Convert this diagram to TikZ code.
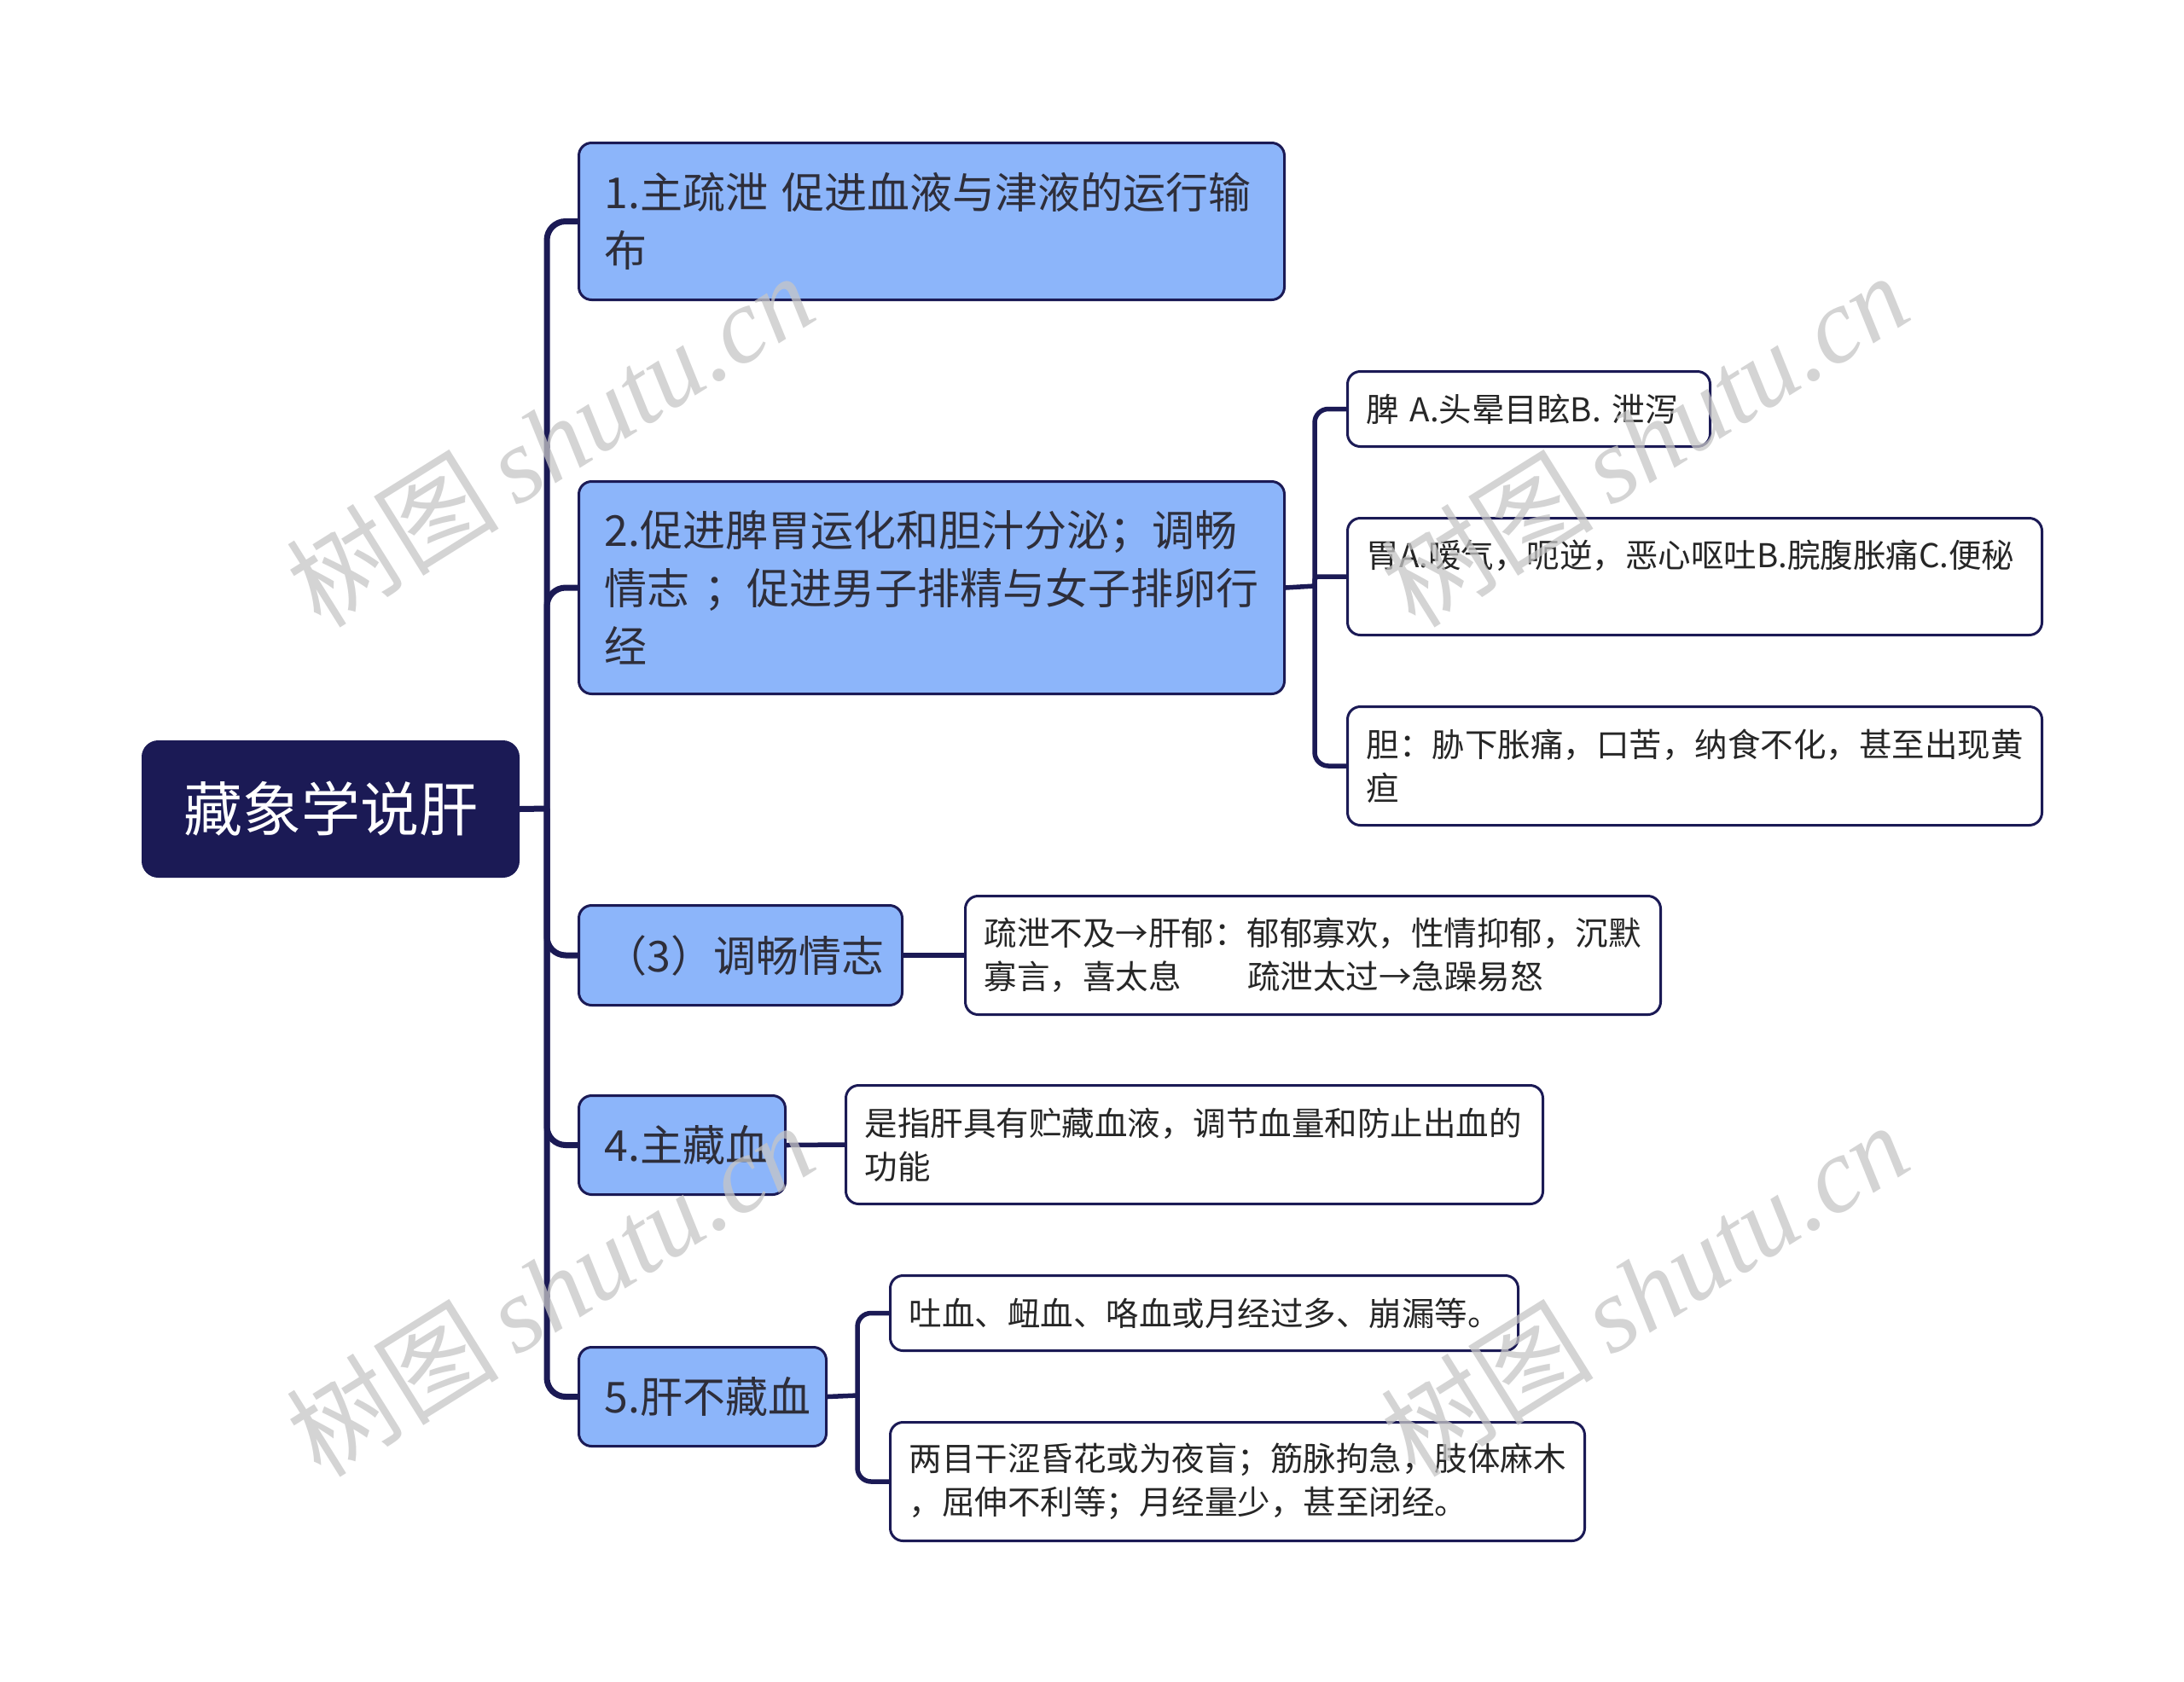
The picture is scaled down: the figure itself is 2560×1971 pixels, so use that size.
\documentclass[tikz,border=0pt]{standalone}
\usepackage{fontspec}
\usetikzlibrary{backgrounds}
\setmainfont{Noto Sans CJK SC}
\newfontfamily\wmlatin{Liberation Serif}
\newfontfamily\wmcjk{Noto Sans CJK SC}
\definecolor{navy}{HTML}{1B1A55}
\definecolor{lblue}{HTML}{8CB5FA}
\definecolor{txtdark}{HTML}{2E2E3A}
\definecolor{leaftxt}{HTML}{262626}
\definecolor{wmgray}{HTML}{C6C6C6}
\begin{document}
\begin{tikzpicture}[x=1pt,y=-1pt,
  box/.style={draw=navy, line width=3pt, rounded corners=15pt, anchor=north west, align=left, inner ysep=0pt},
  rootbox/.style={draw=navy, line width=3pt, fill=navy, text=white, rounded corners=18pt, anchor=north west, align=center, inner sep=0pt, font=\fontsize{69}{80}\selectfont},
  lvone/.style={box, fill=lblue, text=txtdark, inner xsep=30pt, font=\fontsize{50}{68}\selectfont},
  leaf/.style={box, fill=white, text=leaftxt, inner xsep=22pt, font=\fontsize{38.5}{51}\selectfont},
  trunk/.style={draw=navy, line width=7pt, rounded corners=22pt},
  twig/.style={draw=navy, line width=5.5pt, rounded corners=16pt},
  wm/.style={text=wmgray, opacity=0.75, rotate=32, inner sep=0pt, font=\fontsize{125}{125}\selectfont}]
\useasboundingbox (0,0) rectangle (2560,1971);

% root
\node[rootbox, minimum width=440pt, minimum height=158pt] (root) at (166,868) {藏象学说肝};

% level one
\node[lvone, minimum width=827pt, minimum height=184pt, text width=767pt] (n1) at (677,166) {1.主疏泄~促进血液与津液的运行输\\布};
\node[lvone, minimum width=827pt, minimum height=249pt, text width=767pt] (n2) at (677,563) {2.促进脾胃运化和胆汁分泌；调畅\\情志~；促进男子排精与女子排卵行\\经};
\node[lvone, minimum width=379pt, minimum height=117pt, text width=319pt] (n3) at (677,1060) {（3）调畅情志};
\node[lvone, minimum width=242pt, minimum height=116pt, text width=182pt] (n4) at (677,1283) {4.主藏血};
\node[lvone, minimum width=290pt, minimum height=116pt, text width=230pt] (n5) at (677,1578) {5.肝不藏血};

% leaves
\node[leaf, minimum width=425pt, minimum height=88pt, text width=381pt] (l2a) at (1578,434) {脾~A.头晕目眩B.~泄泻};
\node[leaf, minimum width=814pt, minimum height=137pt, text width=770pt] (l2b) at (1578,606) {胃A.嗳气，呃逆，恶心呕吐B.脘腹胀痛C.便秘\\\phantom{胃}};
\node[leaf, minimum width=814pt, minimum height=139pt, text width=770pt] (l2c) at (1578,827) {胆：胁下胀痛，口苦，纳食不化，甚至出现黄\\疸};
\node[leaf, minimum width=815pt, minimum height=139pt, text width=771pt] (l3) at (1130,1049) {疏泄不及→肝郁：郁郁寡欢，性情抑郁，沉默\\寡言，喜太息\hspace*{78pt}疏泄太过→急躁易怒};
\node[leaf, minimum width=817pt, minimum height=139pt, text width=773pt] (l4) at (990,1271) {是指肝具有贮藏血液，调节血量和防止出血的\\功能};
\node[leaf, minimum width=736pt, minimum height=88pt, text width=692pt] (l5a) at (1042,1494) {吐血、衄血、咯血或月经过多、崩漏等。};
\node[leaf, minimum width=814pt, minimum height=139pt, text width=770pt] (l5b) at (1042,1666) {两目干涩昏花或为夜盲；筋脉拘急，肢体麻木\\，屈伸不利等；月经量少，甚至闭经。};

\coordinate (J) at (641,948);
\coordinate (J2) at (1541,687);
\coordinate (J5) at (1005,1636);

% connectors behind the nodes
\begin{scope}[on background layer]
\fill[white] (0,0) rectangle (2560,1971);
\draw[trunk] (root.east) -- (J);
\foreach \c in {n1,n2,n3,n4,n5}
  \draw[trunk] (J) -- (J |- \c.west) -- (\c.west);
\draw[twig] (n2.east) -- (J2);
\draw[twig] (J2) -- (J2 |- l2a.west) -- (l2a.west);
\draw[twig, rounded corners=4pt] (J2) -- (J2 |- l2b.west) -- (l2b.west);
\draw[twig] (J2) -- (J2 |- l2c.west) -- (l2c.west);
\draw[twig] (n3.east) -- (l3.west);
\draw[twig] (n4.east) -- (l4.west);
\draw[twig] (n5.east) -- (J5);
\draw[twig] (J5) -- (J5 |- l5a.west) -- (l5a.west);
\draw[twig] (J5) -- (J5 |- l5b.west) -- (l5b.west);
\end{scope}

% watermarks
\node[wm] (wm1) at (644,515) {\wmcjk 树图\,{\wmlatin\itshape shutu.cn}};
\node[wm] (wm2) at (1927,515) {\wmcjk 树图\,{\wmlatin\itshape shutu.cn}};
\node[wm] (wm3) at (644,1511) {\wmcjk 树图\,{\wmlatin\itshape shutu.cn}};
\node[wm] (wm4) at (1927,1511) {\wmcjk 树图\,{\wmlatin\itshape shutu.cn}};
\end{tikzpicture}
\end{document}
